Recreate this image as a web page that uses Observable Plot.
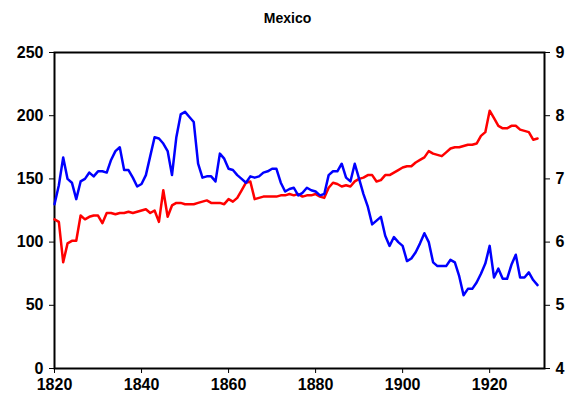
<!DOCTYPE html>
<html><head><meta charset="utf-8">
<script src="https://cdn.jsdelivr.net/npm/d3@7"></script>
<script src="https://cdn.jsdelivr.net/npm/@observablehq/plot@0.6"></script>
<style>
body{margin:0;background:#fff;font-family:"Liberation Sans",Arial,sans-serif;}
#title{text-align:center;font-weight:bold;font-size:14px;height:30px;line-height:36px;}
</style></head><body>
<div id="title">Mexico</div>
<div id="chart"></div>
<script>
const startYear = 1820
// left axis (blue)
const blue = [130,145,167,150,147,134,148,150,155,152,156,156,155,165,172,175,157,157,151,144,
146,153,168,183,182,178,172,153,183,201,203,199,195,162,151,152,152,148,170,166,
158,157,153,150,147,152,151,152,155,156,158,158,147,140,142,143,137,139,143,141,
140,137,138,153,156,156,162,151,148,162,150,138,128,114,117,120,105,97,104,100,
97,85,87,92,99,107,100,84,81,81,81,86,84,73,58,63,63,68,75,83,
97,72,79,71,71,82,90,72,72,76,70,66]
// right axis (red)
const red = [6.36,6.32,5.68,5.98,6.02,6.02,6.42,6.36,6.40,6.42,6.42,6.30,6.46,6.46,6.44,6.46,6.46,6.48,6.46,6.48,
6.50,6.52,6.46,6.50,6.32,6.82,6.40,6.58,6.62,6.62,6.60,6.60,6.60,6.62,6.64,6.66,6.62,6.62,6.62,6.60,
6.68,6.64,6.70,6.82,6.94,6.96,6.68,6.70,6.72,6.72,6.72,6.72,6.74,6.74,6.76,6.74,6.76,6.72,6.74,6.74,
6.76,6.72,6.70,6.86,6.94,6.92,6.88,6.90,6.88,6.96,7.00,7.02,7.06,7.06,6.96,6.98,7.06,7.06,7.10,7.14,
7.18,7.20,7.20,7.26,7.30,7.34,7.44,7.40,7.38,7.36,7.42,7.48,7.50,7.50,7.52,7.54,7.54,7.56,7.68,7.74,
8.08,7.96,7.84,7.80,7.80,7.84,7.84,7.78,7.76,7.74,7.62,7.64]
const leftTicks = [0,50,100,150,200,250]
const rightTicks = [4,5,6,7,8,9]
const xTicks = [1820,1840,1860,1880,1900,1920]

const toLeft = r => (r - 4) * 50
const blueData = blue.map((v,i) => ({year: startYear + i, v}))
const redData = red.map((v,i) => ({year: startYear + i, v: toLeft(v)}))

const chart = Plot.plot({
  width: 575, height: 368,
  marginLeft: 54, marginRight: 31, marginTop: 22, marginBottom: 30,
  style: {fontFamily: "Liberation Sans, Arial, sans-serif", fontSize: "16px", fontWeight: "bold", color: "black"},
  x: {domain: [1820, 1932.6], label: null},
  y: {domain: [0, 250], label: null},
  marks: [
    Plot.frame({stroke: "black", strokeWidth: 2}),
    Plot.axisY(leftTicks, {anchor: "left", label: null, tickSize: 5, tickPadding: 6}),
    Plot.axisY(leftTicks, {anchor: "right", label: null, tickSize: 5, tickPadding: 6,
      tickFormat: (d, i) => rightTicks[i]}),
    Plot.axisX(xTicks, {label: null, tickSize: 5, tickPadding: 5, tickFormat: d => String(d)}),
    Plot.line(redData, {x: "year", y: "v", stroke: "#ff0000", strokeWidth: 2.5}),
    Plot.line(blueData, {x: "year", y: "v", stroke: "#0000ff", strokeWidth: 2.5})
  ]
})
d3.select("#chart").append(() => chart)
</script></body></html>
